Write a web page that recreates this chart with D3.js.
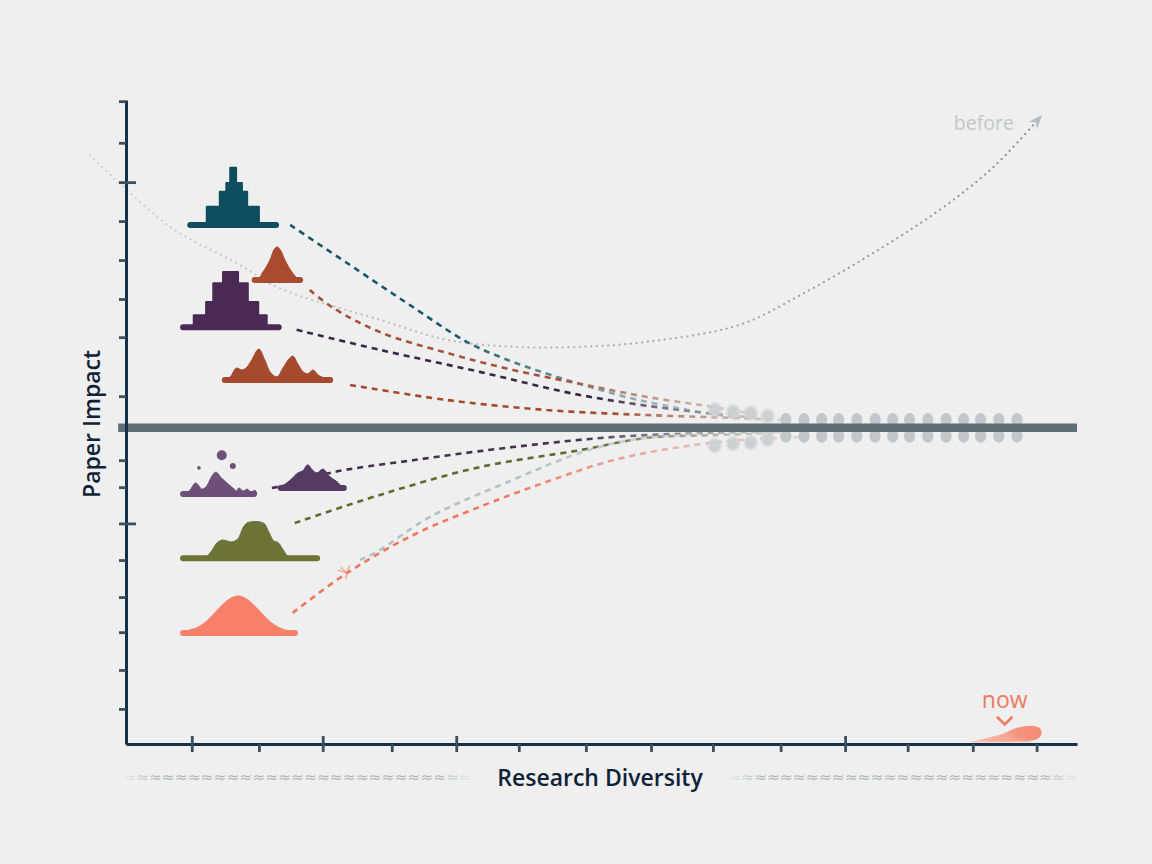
<!DOCTYPE html>
<html>
<head>
<meta charset="utf-8">
<script src="https://cdn.jsdelivr.net/npm/d3@7"></script>
<style>
  html, body { margin: 0; padding: 0; background: #eeefee; }
  svg { display: block; }
</style>
</head>
<body>
<svg id="chart" width="1152" height="864"></svg>
<script>
// ---------------- DATA (Research Diversity on x, Paper Impact on y) ----------------
const xTickValues = [1.01, 2.04, 3.02, 4.08, 5.07, 6.03, 7.06, 8.06, 9.01, 10.05, 11.04, 12.00, 13.00, 13.98];
const xMajorTicks = [1.01, 3.02, 5.07, 11.04];
const yTickValues = [8.47, 7.39, 6.37, 5.36, 4.35, 3.34, 2.35, 0.82, -0.84, -1.54, -2.48, -3.43, -4.39, -5.30, -6.28, -7.29];
const yMajorTicks = [6.37, -2.48];

// the "before" trajectory (dotted)
const beforeCurve = [[-0.55, 7.07], [0.68, 5.21], [1.70, 4.27], [2.36, 3.62], [3.90, 2.80], [4.93, 2.28],
  [5.94, 2.10], [6.97, 2.10], [8.00, 2.23], [9.42, 2.67], [10.35, 3.44], [11.42, 4.48], [12.49, 5.65],
  [13.31, 6.75], [13.98, 7.95]];

// distribution glyphs: base impact level, x span of the base, density profile [x, height]
const tealGlyph   = { base: 5.26, span: [0.94, 2.35], profile: [[1.24, 0.47], [1.44, 0.86], [1.54, 1.09], [1.60, 1.48], [1.69, 1.09], [1.78, 0.86], [1.86, 0.47], [2.04, 0]] };
const rustPeak    = { base: 3.83, span: [1.93, 2.72], profile: [[1.95, 0], [2.05, 0.06], [2.09, 0.18], [2.16, 0.36], [2.21, 0.52], [2.27, 0.78], [2.32, 0.86], [2.37, 0.78], [2.44, 0.52], [2.49, 0.36], [2.56, 0.18], [2.62, 0.06], [2.70, 0]] };
const purpleGlyph = { base: 2.61, span: [0.83, 2.39], profile: [[1.04, 0.31], [1.23, 0.65], [1.34, 1.14], [1.49, 1.43], [1.72, 1.14], [1.87, 0.65], [2.03, 0.31], [2.16, 0]] };
const rustTwin    = { base: 1.24, span: [1.47, 3.18], profile: [[1.50, 0], [1.60, 0.08], [1.70, 0.31], [1.78, 0.26], [1.86, 0.34], [1.93, 0.52], [2.04, 0.80], [2.13, 0.52], [2.21, 0.21], [2.32, 0.08], [2.41, 0.31], [2.49, 0.52], [2.56, 0.62], [2.64, 0.41], [2.72, 0.21], [2.79, 0.16], [2.87, 0.26], [2.95, 0.13], [3.05, 0.05], [3.15, 0]] };
const lilacGlyph  = { base: -1.72, span: [0.83, 2.01], profile: [[0.91, 0], [0.98, 0.10], [1.07, 0.29], [1.17, 0.13], [1.24, 0.21], [1.32, 0.47], [1.38, 0.57], [1.47, 0.41], [1.57, 0.26], [1.66, 0.13], [1.70, 0.08], [1.73, 0.16], [1.80, 0.08], [1.86, 0.13], [1.92, 0.05], [1.98, 0.10], [2.01, 0]] };
const lilacBlobs  = [[1.47, -0.71], [1.64, -0.99], [1.12, -1.04]];
const plumGlyph   = { base: -1.56, span: [2.33, 3.39], profile: [[2.36, 0], [2.43, 0.08], [2.52, 0.20], [2.64, 0.39], [2.72, 0.45], [2.79, 0.60], [2.86, 0.47], [2.93, 0.39], [3.02, 0.49], [3.13, 0.29], [3.24, 0.16], [3.33, 0.02], [3.36, 0]] };
const oliveGlyph  = { base: -3.38, span: [0.83, 2.98], profile: [[1.20, 0], [1.29, 0.13], [1.40, 0.40], [1.49, 0.47], [1.62, 0.42], [1.72, 0.50], [1.80, 0.80], [1.88, 0.93], [2.00, 0.95], [2.12, 0.90], [2.20, 0.65], [2.27, 0.44], [2.33, 0.41], [2.40, 0.25], [2.49, 0.03], [2.52, 0]] };
const salmonGlyph = { base: -5.32, span: [0.83, 2.64], profile: [[0.90, 0], [0.94, 0.05], [1.08, 0.13], [1.22, 0.28], [1.34, 0.48], [1.44, 0.66], [1.58, 0.87], [1.72, 0.96], [1.86, 0.87], [2.00, 0.66], [2.10, 0.48], [2.22, 0.28], [2.36, 0.13], [2.50, 0.05], [2.60, 0]] };

// dashed trails converging toward the baseline
const tealTrail   = [[2.52, 5.26], [3.44, 4.22], [4.36, 3.18], [5.23, 2.23], [5.74, 1.84], [6.20, 1.55], [6.71, 1.27], [7.23, 1.01], [7.74, 0.77], [8.24, 0.59], [8.81, 0.41], [9.42, 0.25]];
const rustTrail   = [[2.82, 3.57], [3.18, 3.11], [3.90, 2.48], [4.93, 1.94], [5.94, 1.50], [6.97, 1.14], [8.00, 0.80], [9.01, 0.54], [9.73, 0.33]];
const purpleTrail = [[2.62, 2.54], [3.90, 2.02], [5.43, 1.45], [6.97, 0.85], [8.50, 0.46], [9.73, 0.25]];
const rustTwinTrail = [[3.44, 1.11], [4.93, 0.72], [6.46, 0.46], [8.00, 0.33], [9.42, 0.25], [10.04, 0.20]];
const plumTrail   = [[2.24, -1.56], [2.70, -1.40], [3.13, -1.17], [4.41, -0.84], [5.94, -0.50], [7.48, -0.24], [9.01, -0.13], [10.04, -0.11]];
const oliveTrail  = [[2.59, -2.47], [3.90, -1.74], [5.43, -1.02], [6.97, -0.58], [8.00, -0.26], [9.01, -0.19], [10.04, -0.13]];
const mistTrail   = [[3.59, -3.43], [3.85, -3.22], [4.67, -2.31], [5.94, -1.35], [6.97, -0.65], [7.74, -0.32], [8.81, -0.16]];
const salmonTrail = [[2.56, -4.80], [3.39, -3.77], [4.41, -2.78], [5.43, -2.05], [6.46, -1.40], [7.48, -0.84], [8.50, -0.50], [9.42, -0.32], [10.35, -0.24]];

// grey markers strung along the baseline
const baselineDotsX = [9.04, 9.32, 9.59, 9.85, 10.13, 10.41, 10.68, 10.94, 11.22, 11.50, 11.77, 12.03, 12.31, 12.59, 12.86, 13.12, 13.40, 13.68];
const baselineDotSpread = [0.46, 0.41, 0.38, 0.30, 0.21, 0.21, 0.21, 0.21, 0.21, 0.21, 0.21, 0.21, 0.21, 0.21, 0.21, 0.21, 0.21, 0.21];

// "now" smudge at the bottom right
const nowSmudge = [[12.97, -8.14], [13.26, -8.03], [13.49, -7.93], [13.61, -7.80], [13.80, -7.73], [13.95, -7.72], [14.04, -7.78], [14.07, -7.92], [14.02, -8.06], [13.90, -8.14]];
const nowSmudgeBase = -8.16;
const nowAnchor = [13.49, -7.72];
const beforeAnchor = [13.17, 7.92];
const splashAt = [3.39, -3.77];

const axisTitles = { x: "Research Diversity", y: "Paper Impact" };
const annotationLabels = { before: "before", now: "now" };

// ---------------- CHART ----------------
const svg = d3.select("#chart");
const W = 1152, H = 864;
const defs = svg.append("defs");

svg.append("rect").attr("width", W).attr("height", H).attr("fill", "#eeefee");

const x = d3.scaleLinear().domain([0, 14.6]).range([126, 1077]);
const y = d3.scaleLinear().domain([-8.2, 8.5]).range([744, 100]);

const line = d3.line().x(d => x(d[0])).y(d => y(d[1])).curve(d3.curveCatmullRom.alpha(0.5));

// before curve
const gB = defs.append("linearGradient").attr("id", "gBefore").attr("gradientUnits", "userSpaceOnUse")
  .attr("x1", x(-0.55)).attr("x2", x(14)).attr("y1", 0).attr("y2", 0);
gB.append("stop").attr("offset", 0).attr("stop-color", "#cfd1d2");
gB.append("stop").attr("offset", 0.45).attr("stop-color", "#b2b5b7");
gB.append("stop").attr("offset", 1).attr("stop-color", "#8e9294");

defs.append("marker").attr("id", "arrowBefore").attr("viewBox", "0 0 10 10")
  .attr("refX", 4).attr("refY", 5).attr("markerUnits", "userSpaceOnUse")
  .attr("markerWidth", 14).attr("markerHeight", 14).attr("orient", "auto")
  .append("path").attr("d", "M0,1 L10,5 L0,9 L3,5 Z").attr("fill", "#b9bcbe");

svg.append("path").datum(beforeCurve)
  .attr("d", line).attr("fill", "none")
  .attr("stroke", "url(#gBefore)").attr("stroke-width", 2.2)
  .attr("stroke-linecap", "round").attr("stroke-dasharray", "0.1 5.6")
  .attr("marker-end", "url(#arrowBefore)");

// dashed trails
const trails = [
  { data: tealTrail, color: "#17576a", fade: 0.35, end: "#a9c6cc" },
  { data: rustTrail, color: "#a6513a", fade: 0.55, end: "#d2c2bd" },
  { data: purpleTrail, color: "#3b2547", fade: 0.65, end: "#b9b6bc" },
  { data: rustTwinTrail, color: "#a6482d", fade: 0.6, end: "#cdbfba" },
  { data: plumTrail, color: "#45304f", fade: 0.6, end: "#c2bfc5" },
  { data: oliveTrail, color: "#5f6a2e", fade: 0.6, end: "#c3c6b8" },
  { data: mistTrail, color: "#b0c2c8", fade: 0.5, end: "#cdd3d5" },
  { data: salmonTrail, color: "#f0765e", fade: 0.4, end: "#d9c9c6" }
];
trails.forEach((t, i) => {
  const g = defs.append("linearGradient").attr("id", "gT" + i).attr("gradientUnits", "userSpaceOnUse")
    .attr("x1", x(t.data[0][0])).attr("x2", x(t.data[t.data.length - 1][0])).attr("y1", 0).attr("y2", 0);
  g.append("stop").attr("offset", 0).attr("stop-color", t.color);
  g.append("stop").attr("offset", t.fade).attr("stop-color", t.color);
  g.append("stop").attr("offset", 1).attr("stop-color", t.end).attr("stop-opacity", 0.7);
  svg.append("path").datum(t.data).attr("d", line).attr("fill", "none")
    .attr("stroke", "url(#gT" + i + ")").attr("stroke-width", 2.6)
    .attr("stroke-dasharray", "6 5");
});

// small splash on the salmon trail
svg.append("path")
  .attr("transform", `translate(${x(splashAt[0])},${y(splashAt[1])})`)
  .attr("d", "M-9,-3 L0,0 M-6,-6 L0,0 L3,-8 M0,0 L-1,6")
  .attr("fill", "none").attr("stroke", "#f08a72").attr("stroke-width", 1.3).attr("opacity", 0.75);

// baseline markers
defs.append("filter").attr("id", "soft").append("feGaussianBlur").attr("stdDeviation", 0.9);
baselineDotsX.forEach((dx, i) => {
  const puff = baselineDotSpread[i] > 0.25;
  [1, -1].forEach(s => {
    svg.append("ellipse")
      .attr("cx", x(dx)).attr("cy", y(s * baselineDotSpread[i]))
      .attr("rx", puff ? 6.5 : 5.6).attr("ry", puff ? 7 : 6.8)
      .attr("fill", puff ? "#cdd0d2" : "#c3c7c9")
      .attr("filter", puff ? "url(#soft)" : null);
  });
});

// thick baseline
svg.append("line").attr("x1", x(-0.12)).attr("x2", x(14.6)).attr("y1", y(0)).attr("y2", y(0))
  .attr("stroke", "#5f6d74").attr("stroke-width", 8.5);

// glyphs
const glyphList = [
  { g: tealGlyph, color: "#0e4d5e", step: true },
  { g: rustPeak, color: "#a84b30", step: false },
  { g: purpleGlyph, color: "#4a2a55", step: true },
  { g: rustTwin, color: "#a54a2e", step: false },
  { g: lilacGlyph, color: "#6e4f7a", step: false },
  { g: plumGlyph, color: "#553a63", step: false },
  { g: oliveGlyph, color: "#6b7436", step: false },
  { g: salmonGlyph, color: "#f6806a", step: false }
];
glyphList.forEach(({ g, color, step }) => {
  const area = d3.area()
    .x(d => x(d[0]))
    .y0(y(g.base))
    .y1(d => y(g.base + d[1]))
    .curve(step ? d3.curveStepAfter : d3.curveMonotoneX);
  svg.append("path").datum(g.profile).attr("d", area)
    .attr("fill", color).attr("stroke", color).attr("stroke-width", step ? 2 : 1)
    .attr("stroke-linejoin", "round");
  svg.append("line")
    .attr("x1", x(g.span[0]) + 3).attr("x2", x(g.span[1]) - 3)
    .attr("y1", y(g.base)).attr("y2", y(g.base))
    .attr("stroke", color).attr("stroke-width", 6).attr("stroke-linecap", "round");
});
svg.selectAll(".blob").data(lilacBlobs).join("circle").attr("class", "blob")
  .attr("cx", d => x(d[0])).attr("cy", d => y(d[1]))
  .attr("r", (d, i) => [5, 3, 1.8][i]).attr("fill", "#6e4f7a");

// now smudge
const gN = defs.append("linearGradient").attr("id", "gNow").attr("x1", 0).attr("x2", 1).attr("y1", 0).attr("y2", 0);
gN.append("stop").attr("offset", 0).attr("stop-color", "#f7a895").attr("stop-opacity", 0.55);
gN.append("stop").attr("offset", 0.6).attr("stop-color", "#f48a72").attr("stop-opacity", 0.9);
gN.append("stop").attr("offset", 1).attr("stop-color", "#f37c63").attr("stop-opacity", 0.85);
svg.append("path").datum(nowSmudge)
  .attr("d", d3.line().x(d => x(d[0])).y(d => y(d[1])).curve(d3.curveBasisClosed))
  .attr("fill", "url(#gNow)");
svg.append("path").datum([nowSmudge[0], nowSmudge[1], nowSmudge[2], [13.9, -8.14]])
  .attr("d", d3.area().x(d => x(d[0])).y0(y(nowSmudgeBase)).y1(d => y(d[1])).curve(d3.curveBasis))
  .attr("fill", "#f7a895").attr("opacity", 0.55);

// axes
const axisY = svg.append("g").attr("transform", `translate(${x(0)},0)`)
  .call(d3.axisLeft(y).tickValues(yTickValues).tickSizeInner(7).tickSizeOuter(0).tickFormat(""));
const axisYMajor = svg.append("g").attr("transform", `translate(${x(0)},0)`)
  .call(d3.axisLeft(y).tickValues(yMajorTicks).tickSizeInner(-10).tickSizeOuter(0).tickFormat(""));
const axisX = svg.append("g").attr("transform", `translate(0,${y(-8.2)})`)
  .call(d3.axisBottom(x).tickValues(xTickValues).tickSizeInner(8).tickSizeOuter(0).tickFormat(""));
const axisXMajor = svg.append("g").attr("transform", `translate(0,${y(-8.2)})`)
  .call(d3.axisBottom(x).tickValues(xMajorTicks).tickSizeInner(-8).tickSizeOuter(0).tickFormat(""));
[axisY, axisX].forEach(a => a.select(".domain").attr("stroke", "#173049").attr("stroke-width", 3));
[axisYMajor, axisXMajor].forEach(a => a.select(".domain").remove());
[axisY, axisX, axisYMajor, axisXMajor].forEach(a => a.selectAll(".tick line").attr("stroke", "#3c4f5c").attr("stroke-width", 2.8));

// axis titles
svg.append("text").attr("transform", `translate(100,${y(0.1)}) rotate(-90)`)
  .attr("text-anchor", "middle").attr("font-family", "Open Sans, sans-serif").attr("font-size", 23)
  .attr("font-weight", 600).attr("fill", "#102238").text(axisTitles.y);
svg.append("text").attr("x", 600).attr("y", 786)
  .attr("text-anchor", "middle").attr("font-family", "Open Sans, sans-serif").attr("font-size", 23)
  .attr("font-weight", 600).attr("fill", "#102238").text(axisTitles.x);

// wavy decorations
const gW = defs.append("linearGradient").attr("id", "gWave").attr("x1", 0).attr("x2", 1).attr("y1", 0).attr("y2", 0);
gW.append("stop").attr("offset", 0).attr("stop-color", "#aab4ba").attr("stop-opacity", 0.1);
gW.append("stop").attr("offset", 0.1).attr("stop-color", "#aab4ba").attr("stop-opacity", 1);
gW.append("stop").attr("offset", 0.9).attr("stop-color", "#aab4ba").attr("stop-opacity", 1);
gW.append("stop").attr("offset", 1).attr("stop-color", "#aab4ba").attr("stop-opacity", 0.1);
[[123, 472], [728, 1078]].forEach(([a, b]) => {
  svg.append("text").attr("x", a).attr("y", 782)
    .attr("font-family", "DejaVu Sans, sans-serif").attr("font-size", 14)
    .attr("textLength", b - a).attr("lengthAdjust", "spacingAndGlyphs")
    .attr("fill", "url(#gWave)").text("≈".repeat(27));
});

// annotations
svg.append("text").attr("x", x(beforeAnchor[0])).attr("y", y(beforeAnchor[1]) + 8)
  .attr("text-anchor", "middle").attr("font-family", "Open Sans, sans-serif").attr("font-size", 19.5)
  .attr("fill", "#c4c7c9").text(annotationLabels.before);
svg.append("text").attr("x", x(nowAnchor[0])).attr("y", y(nowAnchor[1]) - 17)
  .attr("text-anchor", "middle").attr("font-family", "Open Sans, sans-serif").attr("font-size", 23)
  .attr("fill", "#f07a61").text(annotationLabels.now);
svg.append("path")
  .attr("transform", `translate(${x(nowAnchor[0])},${y(nowAnchor[1])})`)
  .attr("d", "M-7,-8 L0,-1 L7,-8").attr("fill", "none")
  .attr("stroke", "#f07a61").attr("stroke-width", 2.6).attr("stroke-linecap", "round");
</script>
</body>
</html>
